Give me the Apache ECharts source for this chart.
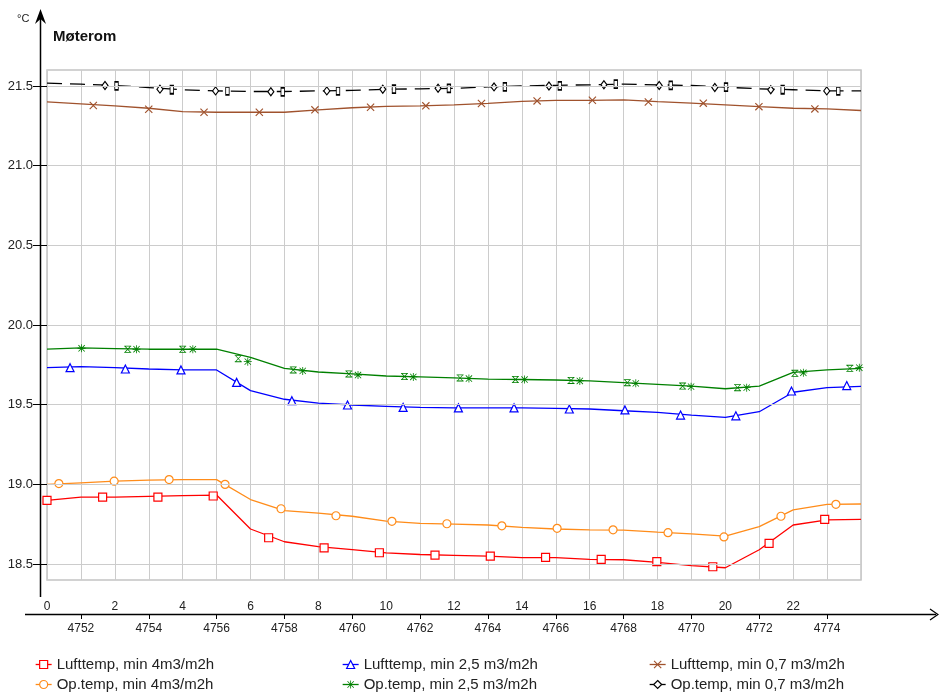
<!DOCTYPE html>
<html><head><meta charset="utf-8">
<script src="https://cdn.jsdelivr.net/npm/echarts@6/dist/echarts.min.js"></script>
<style>html,body{margin:0;padding:0;background:#fff}#c{width:939px;height:696px}</style>
</head><body><div id="c"></div>
<script>
// ---- data ----
const hours = [0,1,2,3,4,5,6,7,8,9,10,11,12,13,14,15,16,17,18,19,20,21,22,23,24];
const lufttemp4  = [18.90,18.92,18.92,18.925,18.93,18.933,18.72,18.64,18.61,18.59,18.57,18.56,18.555,18.55,18.54,18.54,18.53,18.527,18.51,18.49,18.477,18.59,18.745,18.777,18.78];
const optemp4    = [19.0,19.01,19.02,19.027,19.03,19.03,18.905,18.835,18.82,18.80,18.77,18.755,18.75,18.745,18.73,18.72,18.715,18.713,18.70,18.69,18.675,18.735,18.84,18.875,18.877];
const lufttemp25 = [19.732,19.739,19.732,19.724,19.718,19.718,19.588,19.534,19.51,19.498,19.49,19.483,19.48,19.48,19.48,19.477,19.473,19.462,19.452,19.435,19.42,19.456,19.578,19.607,19.615];
const optemp25   = [19.848,19.856,19.852,19.848,19.848,19.848,19.797,19.728,19.705,19.693,19.68,19.674,19.668,19.661,19.658,19.655,19.649,19.638,19.628,19.617,19.6,19.617,19.703,19.718,19.728];
const lufttemp07 = [21.400,21.388,21.375,21.36,21.339,21.335,21.335,21.335,21.35,21.363,21.372,21.375,21.381,21.39,21.403,21.41,21.41,21.413,21.402,21.392,21.381,21.37,21.36,21.356,21.346];
const optemp07   = [21.518,21.511,21.503,21.49,21.476,21.469,21.465,21.465,21.469,21.472,21.479,21.482,21.485,21.494,21.50,21.504,21.507,21.511,21.507,21.503,21.492,21.482,21.476,21.469,21.469];

// marker positions (hour, value) as drawn in the original
const redMarkHours   = [0,1.64,3.27,4.9,6.535,8.17,9.8,11.44,13.07,14.7,16.34,17.98,19.63,21.29,22.93];
const redMarkValues  = [18.90,18.92,18.92,18.927,18.665,18.602,18.571,18.556,18.55,18.542,18.53,18.515,18.483,18.63,18.78];
const orangeMarkHours  = [0.35,1.98,3.6,5.25,6.9,8.52,10.17,11.79,13.41,15.04,16.69,18.31,19.96,21.64,23.26];
const orangeMarkValues = [19.005,19.02,19.03,19.0,18.847,18.803,18.768,18.753,18.74,18.724,18.715,18.697,18.67,18.80,18.875];
const blueMarkHours  = [0.68,2.31,3.95,5.59,7.22,8.86,10.5,12.13,13.77,15.4,17.04,18.68,20.31,21.95,23.58];
const blueMarkValues = [19.732,19.724,19.718,19.64,19.525,19.498,19.483,19.48,19.48,19.473,19.467,19.435,19.43,19.586,19.62];
const greenStarHours  = [1.02,2.64,4.30,5.92,7.54,9.17,10.80,12.44,14.08,15.71,17.36,18.99,20.63,22.30,23.95];
const greenStarValues = [19.854,19.848,19.848,19.77,19.712,19.686,19.674,19.664,19.658,19.649,19.634,19.613,19.607,19.70,19.732];
const greenGlassHours  = [2.38,4.0,5.64,7.26,8.9,10.54,12.18,13.81,15.45,17.11,18.74,20.36,22.05,23.67];
const greenGlassValues = [19.848,19.848,19.789,19.718,19.693,19.677,19.668,19.658,19.652,19.638,19.617,19.607,19.697,19.728];
const brownMarkHours  = [1.365,3.0,4.63,6.26,7.9,9.54,11.17,12.81,14.45,16.08,17.73,19.35,20.99,22.64];
const brownMarkValues = [21.377,21.354,21.335,21.335,21.35,21.366,21.375,21.39,21.406,21.41,21.399,21.392,21.37,21.356];
const blackDiaHours  = [1.71,3.33,4.97,6.6,8.25,9.9,11.53,13.18,14.8,16.42,18.05,19.69,21.34,22.99];
const blackDiaValues = [21.503,21.48,21.469,21.463,21.469,21.479,21.485,21.494,21.50,21.507,21.503,21.49,21.476,21.469];
const blackRectHours  = [2.05,3.68,5.32,6.95,8.58,10.23,11.85,13.5,15.12,16.77,18.39,20.02,21.69,23.33];
const blackRectValues = [21.5,21.476,21.469,21.463,21.469,21.48,21.485,21.494,21.50,21.511,21.503,21.492,21.476,21.469];

const seriesNames = ['Lufttemp, min 4m3/m2h','Lufttemp, min 2,5 m3/m2h','Lufttemp, min 0,7 m3/m2h',
                     'Op.temp, min 4m3/m2h','Op.temp, min 2,5 m3/m2h','Op.temp, min 0,7 m3/m2h'];
const yTickLabels = [18.5,19.0,19.5,20.0,20.5,21.0,21.5];
const xHourLabels = [0,2,4,6,8,10,12,14,16,18,20,22];
const yearHourLabels = [4752,4754,4756,4758,4760,4762,4764,4766,4768,4770,4772,4774];
const yearHourAtZero = 4751;

// ---- build ----
const zip = (a,b) => a.map((v,i)=>[v,b[i]]);
const FONT = 'Liberation Sans, Arial, sans-serif';
const C = {red:'#ff0000', orange:'#ff8c1a', blue:'#0000ff', green:'#008000', brown:'#a0522d', black:'#000000'};
const X_PATH = 'path://M0,1L1,0L10,9L9,10Z M9,0L10,1L1,10L0,9Z';
const STAR_PATH = 'path://M4.5,0H5.5V10H4.5Z M0,4.5H10V5.5H0Z M0.7,1.4L1.4,0.7L9.3,8.6L8.6,9.3Z M8.6,0.7L9.3,1.4L1.4,9.3L0.7,8.6Z';
const GLASS_PATH = 'path://M0,0H10V1.2H0Z M0,8.8H10V10H0Z M0.6,1L1.5,0.5L9.4,9L8.5,9.5Z M8.5,0.5L9.4,1L1.5,9.5L0.6,9Z';
// hollow symbols: white fill, thin coloured outline; line-drawn symbols: filled with colour
const hollow = c => ({color:'#fff', borderColor:c, borderWidth:1.2, opacity:1});
const solid  = c => ({color:c, borderWidth:0, opacity:1});

function lineSeries(name, data, color, symbol, size, itemStyle, extraLine) {
  return {
    type:'line', name, data: zip(hours, data), showSymbol:false, symbol, symbolSize:size,
    lineStyle: Object.assign({color, width:1.3}, extraLine||{}),
    itemStyle, z:2, silent:true, animation:false, emphasis:{disabled:true}
  };
}
function markSeries(name, h, v, symbol, size, itemStyle) {
  return {
    type:'scatter', name, data: zip(h, v), symbol, symbolSize:size,
    itemStyle, z:3, silent:true, animation:false, emphasis:{disabled:true}
  };
}

const series = [
  {type:'line', name:'_grid', data:[], silent:true, z:0, animation:false,
   markLine:{silent:true, symbol:['none','none'], label:{show:false}, animation:false,
     lineStyle:{color:'#cccccc', type:'solid', width:1},
     data: yTickLabels.map(v=>({yAxis:v}))}},
  lineSeries(seriesNames[0], lufttemp4, C.red, 'rect', 8, hollow(C.red)),
  lineSeries(seriesNames[1], lufttemp25, C.blue, 'triangle', 8, hollow(C.blue)),
  lineSeries(seriesNames[2], lufttemp07, C.brown, X_PATH, 8, solid(C.brown)),
  lineSeries(seriesNames[3], optemp4, C.orange, 'circle', 8, hollow(C.orange)),
  lineSeries(seriesNames[4], optemp25, C.green, STAR_PATH, 8, solid(C.green)),
  lineSeries(seriesNames[5], optemp07, C.black, 'diamond', [6,8], hollow(C.black), {type:[15,8]}),
  markSeries('m_red', redMarkHours, redMarkValues, 'rect', 8, hollow(C.red)),
  markSeries('m_orange', orangeMarkHours, orangeMarkValues, 'circle', 8, hollow(C.orange)),
  markSeries('m_blue', blueMarkHours, blueMarkValues, 'triangle', 8, hollow(C.blue)),
  markSeries('m_star', greenStarHours, greenStarValues, STAR_PATH, 8, solid(C.green)),
  markSeries('m_glass', greenGlassHours, greenGlassValues, GLASS_PATH, 7, solid(C.green)),
  markSeries('m_brown', brownMarkHours, brownMarkValues, X_PATH, 8, solid(C.brown)),
  markSeries('m_dia', blackDiaHours, blackDiaValues, 'diamond', [6,8], hollow(C.black)),
  markSeries('m_rect', blackRectHours, blackRectValues, 'rect', [3.5,8], hollow(C.black))
];

function legendCol(left, names) {
  return {orient:'vertical', left, top:657, itemWidth:16, itemHeight:10, padding:0, itemGap:5,
    lineStyle:{type:'solid', width:1.3}, itemStyle:{borderWidth:1.2},
    data: names, selectedMode:false,
    textStyle:{fontSize:15, lineHeight:15, color:'#222', fontFamily:FONT}};
}

const option = {
  animation:false,
  textStyle:{fontFamily:FONT},
  title:{text:'Møterom', left:53, top:29, padding:0,
    textStyle:{fontSize:15, fontWeight:'bold', color:'#111', fontFamily:FONT}},
  legend:[
    legendCol(35, [seriesNames[0], seriesNames[3]]),
    legendCol(342, [seriesNames[1], seriesNames[4]]),
    legendCol(649, [seriesNames[2], seriesNames[5]])
  ],
  grid:{left:47, right:78, top:70, bottom:116, show:true, borderColor:'#c4c4c4', borderWidth:1.5, backgroundColor:'#fff'},
  xAxis:[
    {type:'value', min:0, max:24, interval:1, position:'bottom',
     axisLine:{show:false}, axisTick:{show:false},
     axisLabel:{margin:21, fontSize:12, color:'#222', fontFamily:FONT,
       formatter: v => xHourLabels.includes(v) ? String(v) : ''},
     splitLine:{show:true, lineStyle:{color:'#cccccc', width:1}}},
    {type:'value', min:yearHourAtZero, max:yearHourAtZero+24, position:'bottom', offset:34,
     axisLine:{show:false},
     axisTick:{show:true, customValues:yearHourLabels, length:5, lineStyle:{color:'#000', width:1}},
     axisLabel:{customValues:yearHourLabels, margin:9, fontSize:12, color:'#222', fontFamily:FONT,
       formatter: v => String(v)},
     splitLine:{show:false}}
  ],
  yAxis:{type:'value', min:18.4, max:21.6, position:'left',
    axisLine:{show:false},
    axisTick:{show:true, customValues:yTickLabels, length:14, lineStyle:{color:'#000', width:1}},
    axisLabel:{customValues:yTickLabels, margin:14, fontSize:13, color:'#222', fontFamily:FONT,
      formatter: v => v.toFixed(1)},
    splitLine:{show:false}},
  graphic:[
    {type:'line', shape:{x1:40.5,y1:14,x2:40.5,y2:597}, style:{stroke:'#000', lineWidth:1.5}, z:100},
    {type:'polygon', shape:{points:[[40.5,9],[46,24],[40.5,19],[35,24]]}, style:{fill:'#000'}, z:100},
    {type:'line', shape:{x1:25,y1:614.5,x2:936,y2:614.5}, style:{stroke:'#000', lineWidth:1.5}, z:100},
    {type:'polyline', shape:{points:[[930,609],[938,614.5],[930,620]]}, style:{stroke:'#000', lineWidth:1.3, fill:null}, z:100},
    {type:'text', left:17, top:13, style:{text:'°C', font:'11px Liberation Sans', fill:'#222'}, z:100}
  ],
  series
};
const chart = echarts.init(document.getElementById('c'), null, {renderer:'canvas'});
chart.setOption(option);
</script>
</body></html>
